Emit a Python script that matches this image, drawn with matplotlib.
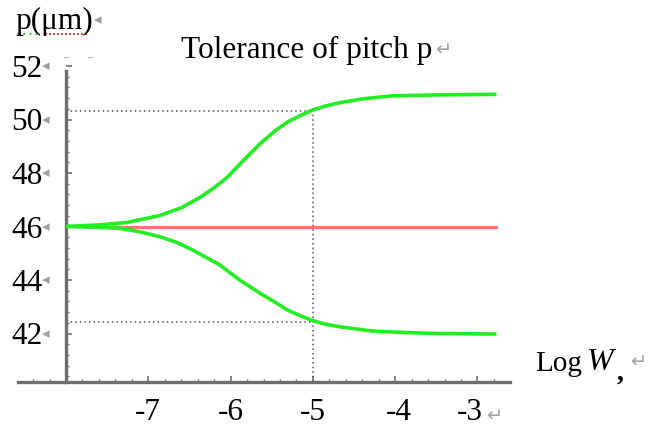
import matplotlib
matplotlib.use("Agg")
import matplotlib.pyplot as plt
from matplotlib.ticker import MultipleLocator, FixedLocator
from matplotlib.transforms import ScaledTranslation

# ---- data ----
upper_x = [-8.0, -7.6, -7.26, -6.86, -6.6, -6.37, -6.2, -6.04, -5.85, -5.64, -5.45, -5.3,
           -5.15, -5.0, -4.85, -4.67, -4.4, -4.06, -3.5, -2.77]
upper_y = [46.0, 46.06, 46.15, 46.41, 46.7, 47.09, 47.45, 47.84, 48.45, 49.1, 49.6, 49.92,
           50.15, 50.36, 50.5, 50.63, 50.77, 50.88, 50.92, 50.94]
lower_x = [-8.0, -7.6, -7.34, -7.1, -6.86, -6.65, -6.46, -6.3, -6.13, -5.89, -5.64, -5.45,
           -5.31, -5.15, -5.0, -4.85, -4.67, -4.3, -4.0, -3.5, -2.77]
lower_y = [46.0, 45.97, 45.93, 45.8, 45.62, 45.4, 45.12, 44.85, 44.56, 44.0, 43.5, 43.15,
           42.88, 42.66, 42.48, 42.35, 42.25, 42.1, 42.05, 42.0, 41.98]
nominal_x = [-7.75, -2.77]
nominal_y = [46.0, 46.0]
ref_x = -5.0
ref_upper = 50.33
ref_lower = 42.44

x_ticks = [-7, -6, -5, -4, -3]
x_labels = ["-7", "-6", "-5", "-4", "-3"]
y_ticks = [42, 44, 46, 48, 50, 52]
y_labels = ["42", "44", "46", "48", "50", "52"]

title = "Tolerance of pitch p"
y_title = "p(μm)"

W, H = 649, 434
fig = plt.figure(figsize=(W / 100, H / 100), dpi=100)

def fx(px):
    return px / W

def fy(py):
    return 1 - py / H

SERIF = ["Liberation Serif", "DejaVu Serif"]
MARK = "#a0a0a0"
FS = 22.5
AXC = "#6e6e6e"

ymin, ymax = 40.2, 52.35
ppu = 26.75  # pixels per y unit
ax_left, ax_right = 18, 510
ax_bot = 226.5 + (46 - ymin) * ppu
ax_top = 226.5 - (ymax - 46) * ppu
ax = fig.add_axes([fx(ax_left), fy(ax_bot), (ax_right - ax_left) / W, (ax_bot - ax_top) / H])
ax.set_xlim(-8.583, -2.605)
ax.set_ylim(ymin, ymax)
ax.patch.set_alpha(0)

for s in ["top", "right"]:
    ax.spines[s].set_visible(False)
ax.spines["left"].set_position(("data", -8))
ax.spines["left"].set_bounds(ymin, 51.8)
for s in ["left", "bottom"]:
    ax.spines[s].set_color(AXC)
    ax.spines[s].set_linewidth(2.4)

ax.xaxis.set_major_locator(FixedLocator(x_ticks))
ax.set_xticklabels(x_labels)
ax.xaxis.set_minor_locator(MultipleLocator(0.2))
ax.yaxis.set_major_locator(FixedLocator(y_ticks))
ax.set_yticklabels(y_labels)
ax.yaxis.set_minor_locator(FixedLocator([v / 10 for v in range(404, 520, 4)]))
ax.tick_params(axis="both", which="major", direction="in", length=4, width=1.2,
               color=AXC, labelsize=FS)
ax.tick_params(axis="both", which="minor", direction="in", length=2.5, width=1.0,
               color=AXC)
ax.tick_params(axis="x", which="major", pad=12)
ax.tick_params(axis="y", which="major", pad=17)
for lab in ax.get_xticklabels() + ax.get_yticklabels():
    lab.set_family(SERIF)
# small horizontal nudges of x tick labels as in the reference
xl = ax.get_xticklabels()
xl[3].set_transform(xl[3].get_transform() + ScaledTranslation(4 / 100, 0, fig.dpi_scale_trans))
xl[4].set_transform(xl[4].get_transform() + ScaledTranslation(-8 / 100, 0, fig.dpi_scale_trans))

# reference dotted lines
dot = dict(color="#555555", lw=1.1, ls=(0, (1, 2)))
ax.plot([-8, ref_x], [ref_upper, ref_upper], **dot)
ax.plot([-8, ref_x], [ref_lower, ref_lower], **dot)
ax.plot([ref_x, ref_x], [ymin, ref_upper], **dot)

# curves
ax.plot(nominal_x, nominal_y, color="#ff5a5a", lw=2.2, alpha=0.85, zorder=3)
ax.plot(upper_x, upper_y, color="#22ee22", lw=2.6, zorder=4, solid_capstyle="butt")
ax.plot(lower_x, lower_y, color="#22ee22", lw=2.6, zorder=4, solid_capstyle="butt")

# small grey triangles after y tick labels
for v in y_ticks:
    ax.annotate("◂", xy=(-8, v), xycoords="data", xytext=(-20, 0),
                textcoords="offset pixels", ha="center", va="center",
                fontsize=11, color=MARK, family="DejaVu Sans")

# title and labels
fig.text(fx(307), fy(50), title, ha="center", va="center", fontsize=FS, family=SERIF)
fig.text(fx(443), fy(50), "↵", ha="center", va="center", fontsize=14, color=MARK,
         family="DejaVu Sans")
fig.text(fx(15), fy(21), y_title, ha="left", va="center", fontsize=FS, family=SERIF)
fig.text(fx(98), fy(20), "◂", ha="center", va="center", fontsize=11, color=MARK,
         family="DejaVu Sans")
fig.add_artist(plt.Line2D([fx(45), fx(88)], [fy(34), fy(34)], color="#ee2222", lw=1.2,
                          ls=(0, (1.2, 1.2))))
fig.add_artist(plt.Line2D([fx(17), fx(42)], [fy(34), fy(34)], color="#22aa22", lw=1.2,
                          ls=(0, (1.2, 2.5))))
for px in (66, 90):
    fig.add_artist(plt.Line2D([fx(px - 2), fx(px + 2)], [fy(57), fy(57)], color="#c0c0c0",
                              lw=1.0))

fig.text(fx(535), fy(364), "Log", ha="left", va="center", fontsize=21, family=SERIF)
fig.text(fx(587), fy(363), "W", ha="left", va="center", fontsize=23, family=SERIF,
         style="italic")
fig.text(fx(617), fy(373), ",", ha="left", va="center", fontsize=20, family=SERIF,
         weight="bold")
fig.text(fx(638), fy(362), "↵", ha="center", va="center", fontsize=14, color=MARK,
         family="DejaVu Sans")
fig.text(fx(494), fy(416), "↵", ha="center", va="center", fontsize=14, color=MARK,
         family="DejaVu Sans")

fig.savefig("out.png", dpi=100)
